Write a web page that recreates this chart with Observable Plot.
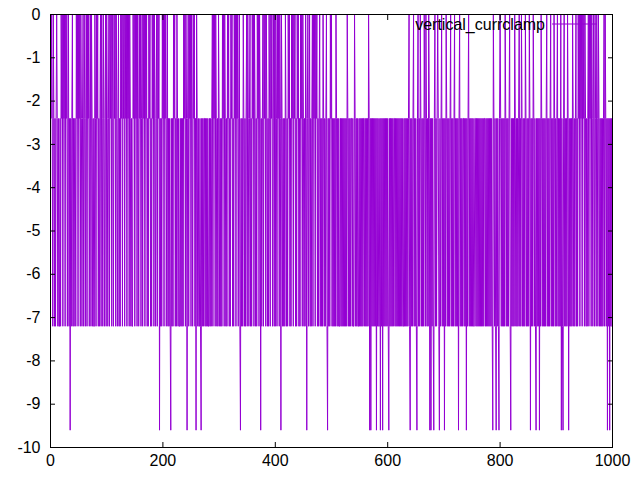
<!DOCTYPE html>
<html>
<head>
<meta charset="utf-8">
<script src="https://cdn.jsdelivr.net/npm/d3@7"></script>
<script src="https://cdn.jsdelivr.net/npm/@observablehq/plot@0.6"></script>
<style>
  body { margin: 0; background: #fff; }
</style>
</head>
<body>
<div id="chart"></div>
<script>
// ---- data ----
const seriesName = "vertical_currclamp";
const xTicks = [0, 200, 400, 600, 800, 1000];
const yTicks = [0, -1, -2, -3, -4, -5, -6, -7, -8, -9, -10];
// level code per sample (x = 0 .. 999)
const levelValues = {"0": 0, "1": -2.4, "3": -7.2, "4": -9.6};
const levelRows = [
  "0101301313 1013133130 1030103010 3103141310 3131130103 0103013103 1031030103 1030131330 1301031310 3013013103",
  "0131030103 0130103013 1031301030 1030103010 3013133010 3010301301 0310301030 1031301031 3010301310 3010413130",
  "1030103103 1313413130 1031301313 3131313010 3014103010 3013010314 0131331341 3131131313 1331313103 0103013130",
  "1313130103 0131301031 3010313010 3010310341 3130131310 3013103130 1030131301 0301413103 0103013130 1301031030",
  "3013010301 4013131301 3130103130 1030103130 1031301030 1313014103 1031310301 0301031310 3131301313 1034131301",
  "0313131301 3131331313 1313131301 3131311313 3013131331 3131313113 1313130141 4131313131 4131331413 1413131313",
  "1341313131 3113131313 1313131331 3131313103 4131310313 1341031301 3131301301 3130141413 1341031310 1341310313",
  "1413013131 3103131310 3131314103 1313113131 4131031313 1313311313 1313131313 1311313131 3131313401 3134131341",
  "0131313130 1313131034 1313130131 3131031301 3131301313 1301413130 1313413131 4130131313 1310313131 0313130131",
  "3103131304 1341031313 0141313130 1313103130 1030103010 3013131030 1030130130 1301301313 1313103013 1413141313"
];

const codes = levelRows.join("").replace(/\s+/g, "");
const data = Array.from(codes, (c, i) => ({x: i, y: levelValues[c]}));

const color = "#9400d3";
const font = "'Liberation Sans', Arial, sans-serif";

const chart = Plot.plot({
  width: 640,
  height: 480,
  marginLeft: 50,
  marginRight: 28,
  marginTop: 14,
  marginBottom: 33,
  style: {fontFamily: font, fontSize: "16px", background: "#fff", color: "#000"},
  x: {domain: [0, 1000]},
  y: {domain: [-10, 0]},
  marks: [
    Plot.line(data, {x: "x", y: "y", stroke: color, strokeWidth: 1}),
    Plot.frame({stroke: "#000"}),
    Plot.axisX(xTicks, {anchor: "bottom", tickSize: 0, tickPadding: 7, label: null, fontSize: 16, tickFormat: d => String(d)}),
    Plot.axisX(xTicks, {anchor: "bottom", tickSize: -5, tickFormat: () => "", label: null}),
    Plot.axisX(xTicks, {anchor: "top", tickSize: -5, tickFormat: () => "", label: null}),
    Plot.axisY(yTicks, {anchor: "left", tickSize: 0, tickPadding: 10, label: null, fontSize: 16, tickFormat: d => String(d)}),
    Plot.axisY(yTicks, {anchor: "left", tickSize: -5, tickFormat: () => "", label: null}),
    Plot.axisY(yTicks, {anchor: "right", tickSize: -5, tickFormat: () => "", label: null})
  ]
});

// legend (gnuplot-style key, top right inside the plot)
const svg = d3.select(chart);
svg.append("text")
  .attr("x", 545).attr("y", 24)
  .attr("text-anchor", "end")
  .attr("dominant-baseline", "central")
  .attr("font-family", font)
  .attr("font-size", 16)
  .attr("fill", "#000")
  .text(seriesName);
svg.append("line")
  .attr("x1", 552).attr("x2", 597)
  .attr("y1", 24).attr("y2", 24)
  .attr("stroke", color).attr("stroke-width", 1);

document.getElementById("chart").appendChild(chart);
</script>
</body>
</html>
